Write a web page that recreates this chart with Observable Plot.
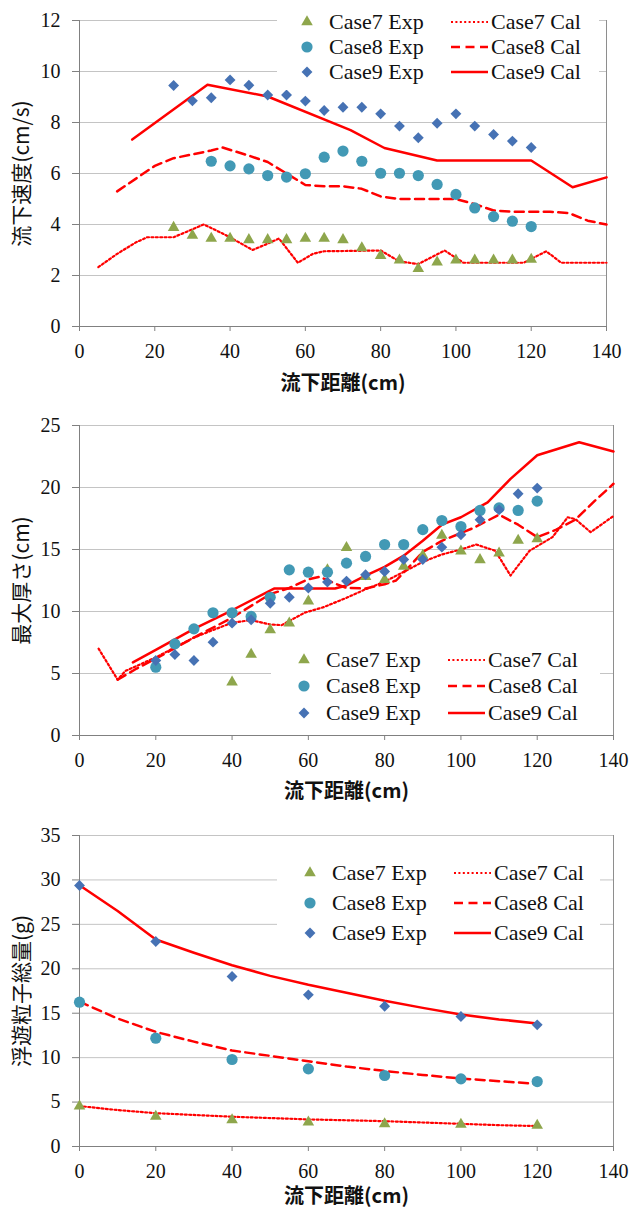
<!DOCTYPE html>
<html><head><meta charset="utf-8">
<script src="https://cdn.jsdelivr.net/npm/d3@7"></script>
<script src="https://cdn.jsdelivr.net/npm/@observablehq/plot@0.6"></script>
<style>
body{margin:0;background:#fff;width:631px;overflow:hidden;}
.panel{position:relative;width:631px;}
.legend{position:absolute;}
</style></head><body>
<div id="p1" class="panel"></div>
<div id="p2" class="panel"></div>
<div id="p3" class="panel"></div>
<script>
// ---------- labels ----------
const xLabel = "流下距離(cm)";
const yLabels = ["流下速度(cm/s)", "最大厚さ(cm)", "浮遊粒子総量(g)"];
const seriesExp = ["Case7 Exp", "Case8 Exp", "Case9 Exp"];
const seriesCal = ["Case7 Cal", "Case8 Cal", "Case9 Cal"];
const xTicks = [0, 20, 40, 60, 80, 100, 120, 140];
const speedTicks = [0, 2, 4, 6, 8, 10, 12];
const thickTicks = [0, 5, 10, 15, 20, 25];
const massTicks = [0, 5, 10, 15, 20, 25, 30, 35];

// ---------- panel 1 : flow velocity ----------
const speedExpX7 = [25,30,35,40,45,50,55,60,65,70,75,80,85,90,95,100,105,110,115,120];
const speedExp7  = [3.88,3.57,3.45,3.45,3.4,3.4,3.4,3.45,3.45,3.4,3.08,2.78,2.6,2.27,2.52,2.6,2.6,2.6,2.6,2.63];
const speedExpX8 = [35,40,45,50,55,60,65,70,75,80,85,90,95,100,105,110,115,120];
const speedExp8  = [6.48,6.3,6.18,5.92,5.86,5.99,6.64,6.88,6.48,6.01,6.01,5.92,5.57,5.18,4.65,4.31,4.13,3.92];
const speedExpX9 = [25,30,35,40,45,50,55,60,65,70,75,80,85,90,95,100,105,110,115,120];
const speedExp9  = [9.45,8.85,8.97,9.67,9.46,9.08,9.08,8.84,8.47,8.6,8.6,8.34,7.86,7.4,7.97,8.34,7.86,7.53,7.27,7.02];
const speedCalX7 = [5,10,15,18,25,33,38,43,46,50,53,58,62,65,80,85,90,97,102,118,124,128,140];
const speedCal7  = [2.33,2.85,3.3,3.5,3.5,4.0,3.65,3.25,3.0,3.25,3.45,2.5,2.85,2.95,2.98,2.55,2.45,2.98,2.5,2.5,2.95,2.5,2.5];
const speedCalX8 = [10,15,20,25,30,35,38,45,50,55,60,65,70,75,80,85,90,95,100,105,110,115,120,125,130,135,140];
const speedCal8  = [5.3,5.8,6.3,6.6,6.75,6.9,7.02,6.7,6.45,6.0,5.55,5.5,5.5,5.4,5.1,5.0,5.0,5.0,5.0,4.8,4.55,4.5,4.5,4.5,4.45,4.15,4.0];
const speedCalX9 = [14,34,50,72,81,95,120,131,140];
const speedCal9  = [7.33,9.48,9.02,7.7,7.0,6.51,6.51,5.46,5.85];

// ---------- panel 2 : max thickness ----------
const thickExpX7 = [40,45,50,55,60,65,70,75,80,85,90,95,100,105,110,115,120];
const thickExp7  = [4.3,6.53,8.52,9.06,10.83,13.36,15.14,12.82,12.56,13.63,14.52,16.13,14.86,14.17,14.7,15.73,15.86];
const thickExpX8 = [20,25,30,35,40,45,50,55,60,65,70,75,80,85,90,95,100,105,110,115,120];
const thickExp8  = [5.51,7.39,8.6,9.9,9.9,9.6,11.15,13.36,13.17,13.17,13.9,14.44,15.4,15.4,16.6,17.34,16.85,18.15,18.36,18.15,18.9];
const thickExpX9 = [20,25,30,35,40,45,50,55,60,65,70,75,80,85,90,95,100,105,110,115,120];
const thickExp9  = [6.05,6.53,6.05,7.53,9.06,9.33,10.67,11.15,11.9,12.37,12.45,12.96,13.23,14.19,14.19,15.19,16.19,17.4,18.2,19.5,19.95];
const thickCalX7 = [5,10,12,20,30,40,45,50,53,59,64,70,75,80,85,90,95,100,104,109,113,118,124,128,130,134,140];
const thickCal7  = [7.0,4.5,5.2,6.3,7.9,9.1,9.3,8.95,8.9,9.9,10.35,11.1,11.8,12.4,13.2,14.0,14.6,15.0,15.4,14.9,12.9,14.9,16.0,17.6,17.45,16.4,17.7];
const thickCalX8 = [10,15,20,30,40,50,55,60,63,67,70,75,80,83,87,90,95,103,110,115,120,125,130,135,140];
const thickCal8  = [4.5,5.4,6.2,7.9,9.5,11.4,11.9,12.6,12.8,12.25,11.9,11.85,12.2,12.5,13.8,14.8,15.7,16.7,17.8,17.0,16.0,16.6,17.4,18.9,20.3];
const thickCalX9 = [14,20,30,40,51,60,67,70,75,80,85,90,95,100,107,113,120,131,140];
const thickCal9  = [5.9,6.9,8.6,10.1,11.85,11.85,11.85,12.1,12.9,13.6,14.5,15.7,17.0,17.6,18.8,20.7,22.6,23.65,22.9];

// ---------- panel 3 : suspended particle mass ----------
const massExpX = [0,20,40,60,80,100,120];
const massExp7 = [4.54,3.38,3.0,2.74,2.55,2.48,2.36];
const massExp8 = [16.24,12.19,9.79,8.74,7.99,7.61,7.31];
const massExp9 = [29.37,23.07,19.13,17.07,15.79,14.63,13.69];
const massCalX = [0,10,20,30,40,50,60,70,80,90,100,110,120];
const massCal7 = [4.55,4.1,3.75,3.55,3.35,3.2,3.05,2.95,2.85,2.7,2.55,2.4,2.3];
const massCal8 = [16.3,14.4,12.9,11.8,10.8,10.2,9.6,9.0,8.5,8.05,7.65,7.35,7.05];
const massCal9 = [29.4,26.5,23.3,21.8,20.4,19.2,18.2,17.3,16.4,15.6,14.85,14.3,13.85];

// ---------- styles ----------
const SERIF = "'Liberation Serif', 'Times New Roman', serif";
const CJK = "'Noto Sans CJK JP', 'Noto Sans CJK SC', sans-serif";
const RED = "#ff0000";
const symStyle = [
  {symbol: "triangle", r: 4.3, fill: "#8ea64c"},
  {symbol: "circle",   r: 5.6, fill: "#4299b5"},
  {symbol: "diamond2", r: 4.9, fill: "#4672b4"}
];
const lineStyle = [
  {strokeWidth: 2.2, strokeDasharray: "2,2.4"},
  {strokeWidth: 2.5, strokeDasharray: "9,5.5"},
  {strokeWidth: 2.5, strokeDasharray: null}
];

const rows = (xs, ys) => xs.map((x, i) => ({x, y: ys[i]}));

function panel({height, mt, mb, mr, yTicks, yLabel, xLabelDy, exp, cal}) {
  const yDomain = [yTicks[0], yTicks[yTicks.length - 1]];
  const marks = [
    Plot.gridY(yTicks, {stroke: "#c4c4c4", strokeOpacity: 1}),
    Plot.ruleX([140], {stroke: "#8e8e8e"}),
    Plot.axisY(yTicks, {tickSize: 7, tickPadding: 12, stroke: "#808080", label: null}),
    Plot.axisX(xTicks, {tickSize: 5, tickPadding: 12, stroke: "#808080", label: null}),
    Plot.ruleY([yDomain[0]], {stroke: "#808080"}),
    Plot.ruleX([0], {stroke: "#808080"})
  ];
  cal.forEach((d, i) => {
    marks.push(Plot.line(d, {x: "x", y: "y", stroke: RED, strokeWidth: lineStyle[i].strokeWidth,
      strokeDasharray: lineStyle[i].strokeDasharray, strokeLinejoin: "round"}));
  });
  exp.forEach((d, i) => {
    marks.push(Plot.dot(d, {x: "x", y: "y", symbol: symStyle[i].symbol, r: symStyle[i].r,
      fill: symStyle[i].fill, stroke: "none"}));
  });
  marks.push(Plot.text([yLabel], {text: d => d, frameAnchor: "left", dx: -57, rotate: -90,
    textAnchor: "middle", lineAnchor: "middle", fontFamily: CJK, fontSize: 21, fill: "#111"}));
  marks.push(Plot.text([xLabel], {text: d => d, frameAnchor: "bottom", dy: xLabelDy,
    textAnchor: "middle", lineAnchor: "middle", fontFamily: CJK, fontSize: 20, fontWeight: "bold", fill: "#111"}));
  return Plot.plot({
    width: 631, height,
    marginLeft: 79, marginRight: mr, marginTop: mt, marginBottom: mb,
    style: {fontFamily: SERIF, fontSize: "20px", background: "#fff", color: "#111", overflow: "visible"},
    x: {domain: [0, 140], ticks: xTicks},
    y: {domain: yDomain, ticks: yTicks},
    marks
  });
}

function addLegend(host, {left, top, width, height, rowY, symX, fontSize}) {
  const svg = d3.create("svg").attr("class", "legend")
    .attr("width", width).attr("height", height)
    .style("left", left + "px").style("top", top + "px");
  svg.append("rect").attr("width", width).attr("height", height).attr("fill", "#fff");
  const sx = symX - left;
  rowY.forEach((ry, i) => {
    const y = ry - top;
    const s = symStyle[i];
    const sym = {triangle: d3.symbolTriangle, circle: d3.symbolCircle, diamond2: d3.symbolDiamond2}[s.symbol];
    svg.append("path").attr("d", d3.symbol(sym, Math.PI * s.r * s.r)())
      .attr("transform", `translate(${sx},${y})`).attr("fill", s.fill);
    svg.append("text").attr("x", sx + 22).attr("y", y).attr("dy", "0.34em")
      .attr("font-family", SERIF).attr("font-size", fontSize).attr("fill", "#111").text(seriesExp[i]);
    svg.append("line").attr("x1", sx + 144).attr("x2", sx + 181).attr("y1", y).attr("y2", y)
      .attr("stroke", RED).attr("stroke-width", lineStyle[i].strokeWidth)
      .attr("stroke-dasharray", lineStyle[i].strokeDasharray);
    svg.append("text").attr("x", sx + 184).attr("y", y).attr("dy", "0.34em")
      .attr("font-family", SERIF).attr("font-size", fontSize).attr("fill", "#111").text(seriesCal[i]);
  });
  host.append(svg.node());
}

const p1 = document.getElementById("p1");
p1.append(panel({height: 400, mt: 20, mb: 74, mr: 25, yTicks: speedTicks, yLabel: yLabels[0], xLabelDy: 57,
  exp: [rows(speedExpX7, speedExp7), rows(speedExpX8, speedExp8), rows(speedExpX9, speedExp9)],
  cal: [rows(speedCalX7, speedCal7), rows(speedCalX8, speedCal8), rows(speedCalX9, speedCal9)]}));
addLegend(p1, {left: 277, top: 6, width: 322, height: 84, rowY: [22, 47, 72], symX: 307, fontSize: 22});

const p2 = document.getElementById("p2");
p2.append(panel({height: 405, mt: 25, mb: 70, mr: 18, yTicks: thickTicks, yLabel: yLabels[1], xLabelDy: 56,
  exp: [rows(thickExpX7, thickExp7), rows(thickExpX8, thickExp8), rows(thickExpX9, thickExp9)],
  cal: [rows(thickCalX7, thickCal7), rows(thickCalX8, thickCal8), rows(thickCalX9, thickCal9)]}));
addLegend(p2, {left: 271, top: 245, width: 329, height: 84, rowY: [260, 286, 313], symX: 304, fontSize: 22});

const p3 = document.getElementById("p3");
p3.append(panel({height: 408, mt: 30, mb: 67, mr: 18, yTicks: massTicks, yLabel: yLabels[2], xLabelDy: 50,
  exp: [rows(massExpX, massExp7), rows(massExpX, massExp8), rows(massExpX, massExp9)],
  cal: [rows(massCalX, massCal7), rows(massCalX, massCal8), rows(massCalX, massCal9)]}));
addLegend(p3, {left: 277, top: 48, width: 323, height: 97, rowY: [68, 98, 128], symX: 310, fontSize: 22});
</script>
</body></html>
